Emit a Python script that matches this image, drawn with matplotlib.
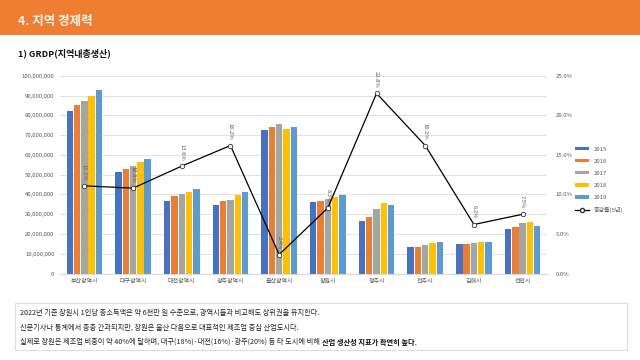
import numpy as np
import matplotlib.pyplot as plt
from matplotlib.patches import Rectangle
from matplotlib.ticker import FuncFormatter, MultipleLocator
from matplotlib.lines import Line2D
from matplotlib.patches import Patch

plt.rcParams['font.family'] = ['Noto Sans CJK KR', 'DejaVu Sans']

cities = ['부산광역시', '대구광역시', '대전광역시', '광주광역시', '울산광역시',
          '창원시', '청주시', '전주시', '김해시', '천안시']
years = ['2015', '2016', '2017', '2018', '2019']
grdp_2015 = [82.3, 51.6, 36.9, 34.6, 72.7, 36.4, 26.8, 13.2, 15.0, 22.3]
grdp_2016 = [85.3, 53.0, 39.3, 36.8, 74.4, 36.8, 28.8, 13.5, 15.0, 23.4]
grdp_2017 = [87.5, 54.6, 40.3, 37.4, 75.7, 37.5, 32.5, 14.5, 15.5, 25.8]
grdp_2018 = [89.7, 56.5, 41.1, 39.8, 73.4, 38.8, 35.9, 15.2, 15.7, 26.1]
grdp_2019 = [92.9, 58.0, 43.0, 41.3, 74.4, 39.8, 34.7, 15.7, 16.0, 24.1]
growth = [11.1, 10.8, 13.6, 16.2, 2.4, 8.3, 22.8, 16.2, 6.2, 7.5]
growth_labels = ['11.1%', '10.8%', '13.6%', '16.2%', '2.4%', '8.3%', '22.8%', '16.2%', '6.2%', '7.5%']
colors = ['#4472C4', '#ED7D31', '#A5A5A5', '#FFC000', '#5B9BD5']

series = [grdp_2015, grdp_2016, grdp_2017, grdp_2018, grdp_2019]

fig = plt.figure(figsize=(6.4, 3.6), dpi=100)

# header band
fig.patches.append(Rectangle((0, 1 - 35 / 360), 1, 35 / 360, transform=fig.transFigure,
                             facecolor='#EF7E32', edgecolor='none', zorder=0))
fig.text(18 / 640, 1 - 21 / 360, '4. 지역 경제력', color='#FFF4EC', fontsize=9,
         fontweight='bold', va='center', ha='left')
fig.text(18 / 640, 1 - 53 / 360, '1) GRDP(지역내총생산)', color='#111111', fontsize=6.5,
         fontweight='bold', va='center', ha='left')

ax = fig.add_axes([60 / 640, 1 - 273.5 / 360, 487 / 640, 197.5 / 360])
x = np.arange(len(cities))
w = 0.15
for i, (vals, c, yr) in enumerate(zip(series, colors, years)):
    ax.bar(x + (i - 2) * w, np.array(vals) * 1e6, width=0.13, color=c, label=yr, zorder=2)

ax.set_ylim(0, 100e6)
ax.set_xlim(-0.5, len(cities) - 0.5)
ax.yaxis.set_major_locator(MultipleLocator(10e6))
ax.yaxis.set_major_formatter(FuncFormatter(lambda v, p: f'{int(v):,}'))
ax.grid(axis='y', color='#E3E3E3', linewidth=0.8, zorder=0)
ax.set_xticks(x)
ax.set_xticklabels(cities)
ax.tick_params(axis='both', labelsize=4.3, colors='#595959', length=0, pad=4)
for s in ax.spines.values():
    s.set_visible(False)
ax.spines['bottom'].set_visible(True)
ax.spines['bottom'].set_color('#D9D9D9')

ax2 = ax.twinx()
ax2.plot(x, growth, color='black', linewidth=0.9, marker='o', markersize=3.2,
         markerfacecolor='white', markeredgecolor='#333333', markeredgewidth=0.6,
         zorder=5)
ax2.set_ylim(0, 25)
ax2.yaxis.set_major_locator(MultipleLocator(5))
ax2.yaxis.set_major_formatter(FuncFormatter(lambda v, p: f'{v:.1f}%'))
ax2.tick_params(axis='y', labelsize=4.3, colors='#595959', length=0, pad=6)
for s in ax2.spines.values():
    s.set_visible(False)
for xi, g, lab in zip(x, growth, growth_labels):
    ax2.text(xi, g + 0.7, lab, rotation=270, fontsize=4.2, color='#595959',
             ha='center', va='bottom')

handles = [Patch(facecolor=c, label=yr) for c, yr in zip(colors, years)]
handles.append(Line2D([0], [0], color='black', linewidth=0.9, marker='o', markersize=3,
                      markerfacecolor='white', markeredgecolor='#333333', label='증감률(5년)'))
fig.legend(handles=handles, loc='center left', bbox_to_anchor=(570 / 640, 1 - 180 / 360),
           frameon=False, fontsize=4.3, labelcolor='#595959', handlelength=2.2,
           handleheight=0.5, labelspacing=1.2)

# text box
fig.patches.append(Rectangle((15 / 640, 1 - 350 / 360), 612 / 640, 47 / 360,
                             transform=fig.transFigure, facecolor='white',
                             edgecolor='#DDDDDD', linewidth=0.8))
lines = ['2022년 기준 창원시 1인당 총소득액은 약 6천만 원 수준으로, 광역시들과 비교해도 상위권을 유지한다.',
         '신문기사나 통계에서 종종 간과되지만, 창원은 울산 다음으로 대표적인 제조업 중심 산업도시다.']
for k, t in enumerate(lines):
    fig.text(20 / 640, 1 - (313 + 14.5 * k) / 360, t, fontsize=5.2, color='#222222', va='center')
t3 = fig.text(20 / 640, 1 - 342 / 360,
              '실제로 창원은 제조업 비중이 약 40%에 달하며, 대구(18%)·대전(16%)·광주(20%) 등 타 도시에 비해 ',
              fontsize=5.2, color='#222222', va='center')
fig.canvas.draw()
bb = t3.get_window_extent(renderer=fig.canvas.get_renderer())
fig.text(bb.x1 / fig.bbox.width, 1 - 342 / 360, '산업 생산성 지표가 확연히 높다.',
         fontsize=5.2, color='#111111', fontweight='bold', va='center')

fig.savefig('out.png', dpi=100)
